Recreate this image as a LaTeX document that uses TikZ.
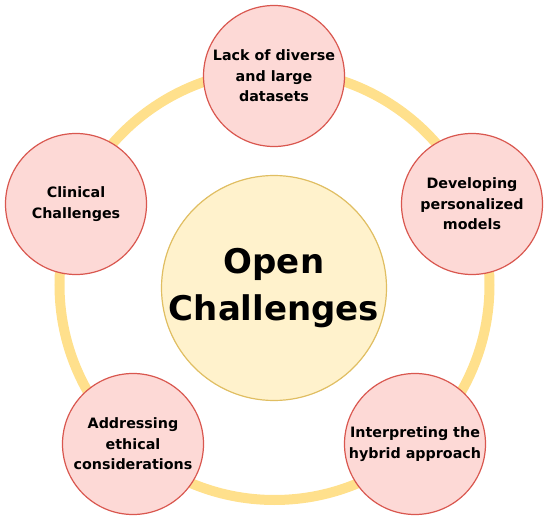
\documentclass[tikz,border=0pt]{standalone}
\usepackage{fontspec}
\setmainfont{DejaVu Sans}
\definecolor{ringyellow}{HTML}{FFE08C}
\definecolor{centerfill}{HTML}{FFF2CC}
\definecolor{centerstroke}{HTML}{E0BE62}
\definecolor{smallfill}{HTML}{FDD9D6}
\definecolor{smallstroke}{HTML}{D9574F}
\tikzset{
  smallc/.style={circle, draw=smallstroke, fill=smallfill, line width=1.2pt,
    minimum size=141pt, inner sep=0pt, align=center, text=black,
    font=\fontsize{14.3}{20.5}\selectfont\bfseries},
  centerc/.style={circle, draw=centerstroke, fill=centerfill, line width=1.2pt,
    minimum size=225pt, inner sep=0pt, align=center, text=black,
    font=\fontsize{34}{47}\selectfont\bfseries},
  ringline/.style={draw=ringyellow, line width=10pt}
}
\begin{document}
\begin{tikzpicture}[x=1pt,y=-1pt]
\useasboundingbox (0,0) rectangle (550,527);
\coordinate (ringc) at (274.5,285);
\draw[ringline] (ringc) circle (215);
\node[centerc] (center) at (274,288) {Open\\Challenges};
\node[smallc] (top) at (274,76) {Lack of diverse\\and large\\datasets};
\node[smallc] (right) at (472,204) {Developing\\personalized\\models};
\node[smallc] (left) at (76,204) {Clinical\\Challenges};
\node[smallc] (bl) at (133,444) {Addressing\\ethical\\considerations};
\node[smallc] (br) at (415,444) {Interpreting the\\hybrid approach};
\end{tikzpicture}
\end{document}
